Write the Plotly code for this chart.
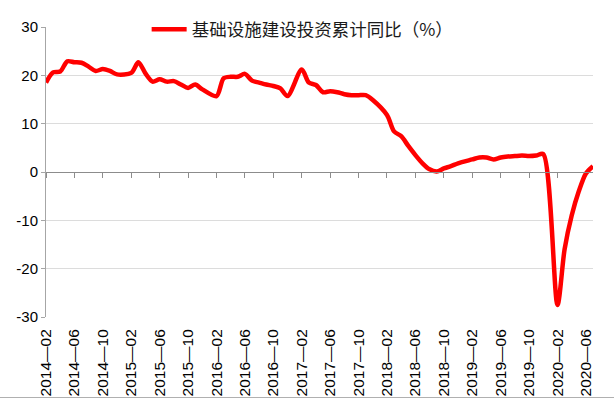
import plotly.graph_objects as go
import pandas as pd

# Categories: monthly, 2014-02 .. 2020-07 (January has no separate release)
months = [d.strftime("%Y-%m") for d in pd.date_range("2014-02-01", "2020-07-01", freq="MS")]

# 基础设施建设投资累计同比 (%)
values = [
    18.5, 20.6, 20.8, 22.9, 22.7, 22.6, 21.8, 20.9, 21.3, 20.9, 20.2,   # 2014-02..12
    None, 20.5, 22.7, 20.4, 18.7, 19.2, 18.7, 18.8, 18.1, 17.4, 18.1, 17.1,  # 2015
    None, 15.7, 19.4, 19.7, 19.7, 20.3, 18.9, 18.5, 18.1, 17.8, 17.3, 15.7,  # 2016
    None, 21.2, 18.5, 18.0, 16.5, 16.7, 16.5, 16.1, 15.9, 15.9, 15.9, 14.9,  # 2017
    None, 11.8, 8.4, 7.4, 5.4, 3.5, 1.8, 0.55, 0.1, 0.75, 1.2, 1.8,          # 2018
    None, 2.6, 3.0, 3.0, 2.6, 3.0, 3.2, 3.3, 3.4, 3.3, 3.4, 3.7,             # 2019
    None, -27.5, -16.0, -9.0, -4.0, -0.3, 1.2,                               # 2020
]

series_name = "基础设施建设投资累计同比（%）"
x_tick_vals = months[::4]
x_tick_text = [m.replace("-", "—") for m in x_tick_vals]
y_tick_vals = [30, 20, 10, 0, -10, -20, -30]
y_tick_text = ["30", "20", "10", "0", "-10", "-20", "-30"]

fig = go.Figure()
fig.add_trace(go.Scatter(
    x=months, y=values, mode="lines", name=series_name,
    line=dict(color="#ff0000", width=4.5, shape="spline", smoothing=0.8),
    connectgaps=True,
))
# helper trace for the tick axis drawn on the zero line
fig.add_trace(go.Scatter(
    x=months, y=[None] * len(months), xaxis="x2", mode="lines",
    showlegend=False, hoverinfo="skip",
))

fig.update_layout(
    width=614, height=399,
    margin=dict(l=46, r=21, t=27, b=82, autoexpand=False),
    paper_bgcolor="white", plot_bgcolor="white",
    font=dict(family="Liberation Sans, Arial, sans-serif", color="#000000"),
    showlegend=True,
    legend=dict(
        orientation="h", x=0.184, xanchor="left", y=0.992, yanchor="middle",
        bgcolor="white", borderwidth=0,
        font=dict(family="Noto Sans CJK SC", size=17.5, color="#1a1a1a"),
        itemwidth=35,
    ),
    xaxis=dict(
        type="category", categoryorder="array", categoryarray=months,
        range=[0, len(months) - 1],
        tickmode="array", tickvals=x_tick_vals, ticktext=x_tick_text,
        tickangle=-90, tickfont=dict(size=15.5, color="#000000"),
        ticks="outside", ticklen=5, tickcolor="rgba(0,0,0,0)",
        showgrid=False, showline=False, zeroline=False,
    ),
    xaxis2=dict(
        type="category", categoryorder="array", categoryarray=months,
        range=[0, len(months) - 1], overlaying="x", anchor="free", position=0.5,
        tickmode="array", tickvals=x_tick_vals[:-1],
        ticks="outside", ticklen=5, tickcolor="#8c8c8c", tickwidth=1,
        showticklabels=False, showgrid=False,
        showline=True, linecolor="#8c8c8c", linewidth=1, zeroline=False,
    ),
    yaxis=dict(
        range=[-30, 30], tickmode="array", tickvals=y_tick_vals, ticktext=y_tick_text,
        tickfont=dict(size=15, color="#000000"),
        ticks="outside", ticklen=4, tickcolor="#a6a6a6",
        showgrid=True, gridcolor="#dcdcdc", gridwidth=1,
        showline=True, linecolor="#a6a6a6", linewidth=1,
        zeroline=False,
    ),
    shapes=[dict(
        type="line", xref="paper", yref="paper",
        x0=-46 / 547, x1=568 / 547, y0=-80.5 / 290, y1=-80.5 / 290,
        line=dict(color="#b0b0b0", width=1),
    )],
)

fig.write_html(
    "out.html",
    config={"displayModeBar": False},
    post_script="document.body.style.margin='0';",
)
